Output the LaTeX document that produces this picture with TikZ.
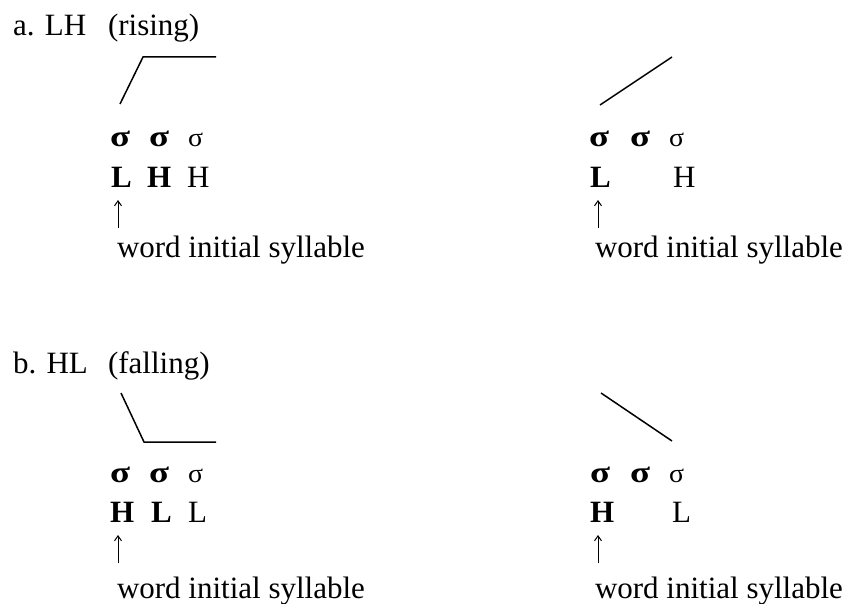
\documentclass[tikz,border=0pt]{standalone}
\usepackage{fontspec}
\usepackage{graphicx}
\setmainfont{Liberation Serif}
\usetikzlibrary{arrows.meta}
\newcommand{\bsg}{\resizebox{20pt}{15.5pt}{\bfseries σ}}
\newcommand{\rsg}{\resizebox{15pt}{13.5pt}{σ}}
\begin{document}
\begin{tikzpicture}[x=1pt,y=-1pt,
  txt/.style={anchor=base west, inner sep=0pt, outer sep=0pt, font=\fontsize{31}{36}\selectfont},
  btxt/.style={txt, font=\fontsize{31}{36}\selectfont\bfseries},
  tone/.style={line width=1.5pt, line cap=butt, line join=miter},
  arr/.style={line width=1pt, -{Straight Barb[length=5pt,width=7pt,line width=1pt]}}]
\useasboundingbox (0,0) rectangle (848,604);
% ---- a. LH (rising) ----
\node[txt] (ta1) at (13,36) {a. LH};
\node[txt] (ta2) at (108,36) {(rising)};
% left
\coordinate (l1a) at (120,104);
\coordinate (l1b) at (143,57);
\coordinate (l1c) at (216,57);
\draw[tone] (l1a) -- (l1b) -- (l1c);
\node[txt] (s1a) at (110,147) {\bsg};
\node[txt] (s1b) at (149,147) {\bsg};
\node[txt] (s1c) at (188,147) {\rsg};
\node[btxt] (k1a) at (111,187) {L};
\node[btxt] (k1b) at (147,187) {H};
\node[txt]  (k1c) at (187,187) {H};
\coordinate (r1s) at (118,228);
\coordinate (r1e) at (118,200);
\draw[arr] (r1s) -- (r1e);
\node[txt] (w1) at (117,257) {word initial syllable};
% right
\coordinate (l2a) at (600,105);
\coordinate (l2b) at (672,57);
\draw[tone] (l2a) -- (l2b);
\node[txt] (s2a) at (589,147) {\bsg};
\node[txt] (s2b) at (630,147) {\bsg};
\node[txt] (s2c) at (669,147) {\rsg};
\node[btxt] (k2a) at (590,187) {L};
\node[txt]  (k2c) at (673,187) {H};
\coordinate (r2s) at (598,228);
\coordinate (r2e) at (598,200);
\draw[arr] (r2s) -- (r2e);
\node[txt] (w2) at (595,257) {word initial syllable};
% ---- b. HL (falling) ----
\node[txt] (tb1) at (13,373) {b. HL};
\node[txt] (tb2) at (108,373) {(falling)};
% left
\coordinate (l3a) at (121,393);
\coordinate (l3b) at (144,442);
\coordinate (l3c) at (216,442);
\draw[tone] (l3a) -- (l3b) -- (l3c);
\node[txt] (s3a) at (110,482) {\bsg};
\node[txt] (s3b) at (149,482) {\bsg};
\node[txt] (s3c) at (188,482) {\rsg};
\node[btxt] (k3a) at (110,522) {H};
\node[btxt] (k3b) at (151,522) {L};
\node[txt]  (k3c) at (188,522) {L};
\coordinate (r3s) at (118,563);
\coordinate (r3e) at (118,535);
\draw[arr] (r3s) -- (r3e);
\node[txt] (w3) at (117,598) {word initial syllable};
% right
\coordinate (l4a) at (601,393);
\coordinate (l4b) at (672,441);
\draw[tone] (l4a) -- (l4b);
\node[txt] (s4a) at (590,482) {\bsg};
\node[txt] (s4b) at (630,482) {\bsg};
\node[txt] (s4c) at (669,482) {\rsg};
\node[btxt] (k4a) at (590,522) {H};
\node[txt]  (k4c) at (672,522) {L};
\coordinate (r4s) at (598,563);
\coordinate (r4e) at (598,535);
\draw[arr] (r4s) -- (r4e);
\node[txt] (w4) at (595,598) {word initial syllable};
\end{tikzpicture}
\end{document}
